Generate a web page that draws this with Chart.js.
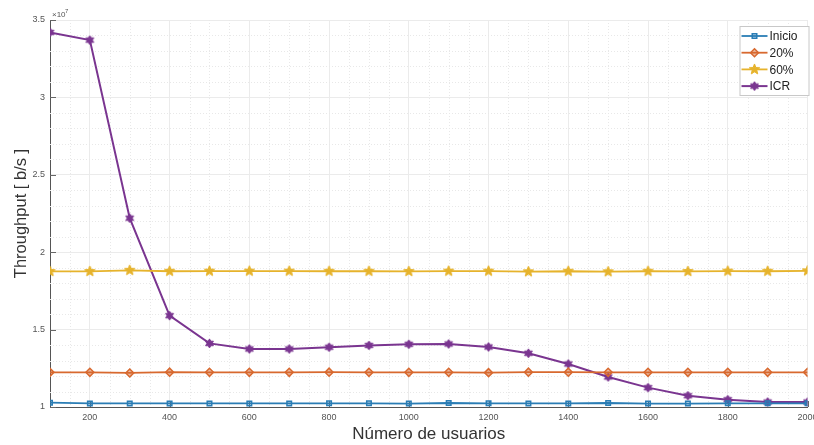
<!DOCTYPE html>
<html>
<head>
<meta charset="utf-8">
<script src="https://cdn.jsdelivr.net/npm/chart.js@4.4.0/dist/chart.umd.min.js"></script>
<style>
  html, body { margin: 0; padding: 0; background: #fff; }
  #wrap { width: 814px; height: 445px; }
</style>
</head>
<body>
<div id="wrap"><canvas id="c" width="814" height="445"></canvas></div>
<script>
// Number of users on the x axis
const users = [100, 200, 300, 400, 500, 600, 700, 800, 900, 1000,
               1100, 1200, 1300, 1400, 1500, 1600, 1700, 1800, 1900, 2000];

// Throughput per scenario [b/s]
const inicio = [1.028e7, 1.023e7, 1.023e7, 1.023e7, 1.023e7, 1.023e7, 1.023e7, 1.024e7, 1.024e7, 1.022e7,
                1.026e7, 1.024e7, 1.023e7, 1.023e7, 1.026e7, 1.022e7, 1.022e7, 1.024e7, 1.024e7, 1.024e7];
const p20    = [1.224e7, 1.224e7, 1.220e7, 1.225e7, 1.224e7, 1.224e7, 1.224e7, 1.225e7, 1.224e7, 1.224e7,
                1.224e7, 1.222e7, 1.225e7, 1.225e7, 1.224e7, 1.224e7, 1.224e7, 1.224e7, 1.224e7, 1.224e7];
const p60    = [1.876e7, 1.876e7, 1.883e7, 1.877e7, 1.878e7, 1.878e7, 1.878e7, 1.877e7, 1.877e7, 1.876e7,
                1.878e7, 1.878e7, 1.874e7, 1.877e7, 1.874e7, 1.877e7, 1.876e7, 1.878e7, 1.877e7, 1.880e7];
const icr    = [3.42e7, 3.37e7, 2.22e7, 1.59e7, 1.411e7, 1.375e7, 1.375e7, 1.386e7, 1.398e7, 1.405e7,
                1.407e7, 1.388e7, 1.347e7, 1.278e7, 1.194e7, 1.125e7, 1.073e7, 1.047e7, 1.032e7, 1.032e7];

// Axis ticks
const xTicks = [200, 400, 600, 800, 1000, 1200, 1400, 1600, 1800, 2000];
const yTicks = [1e7, 1.5e7, 2e7, 2.5e7, 3e7, 3.5e7];

const seriesNames = ['Inicio', '20%', '60%', 'ICR'];
const seriesColors = ['#2a7db5', '#d8692f', '#e6b32c', '#7a3590'];

// Filled star markers drawn into small canvases
function starMarker(points, color, outerR, innerR) {
  const size = Math.ceil(outerR * 2 + 2);
  const cv = document.createElement('canvas');
  cv.width = size; cv.height = size;
  const g = cv.getContext('2d');
  const c = size / 2;
  g.beginPath();
  for (let i = 0; i < points * 2; i++) {
    const r = i % 2 === 0 ? outerR : innerR;
    const a = -Math.PI / 2 + i * Math.PI / points;
    const px = c + r * Math.cos(a), py = c + r * Math.sin(a);
    if (i === 0) g.moveTo(px, py); else g.lineTo(px, py);
  }
  g.closePath();
  g.fillStyle = color;
  g.fill();
  g.lineWidth = 1;
  g.strokeStyle = color;
  g.stroke();
  return cv;
}

const pentagram = starMarker(5, seriesColors[2], 5.5, 2.4);
const hexagram = starMarker(6, seriesColors[3], 4.5, 2.6);

const seriesData = [inicio, p20, p60, icr];
const pointStyles = ['rect', 'rectRot', pentagram, hexagram];
const pointRadii = [3.2, 4, 5, 5];
const pointFills = ['rgba(42,125,181,0.25)', 'rgba(216,105,47,0.45)', seriesColors[2], seriesColors[3]];

const datasets = seriesNames.map((name, s) => ({
  label: name,
  data: users.map((u, i) => ({ x: u, y: seriesData[s][i] })),
  borderColor: seriesColors[s],
  borderWidth: s === 3 ? 2 : 1.8,
  pointStyle: pointStyles[s],
  pointRadius: pointRadii[s],
  pointBorderWidth: 1.5,
  pointBorderColor: seriesColors[s],
  pointBackgroundColor: pointFills[s],
  tension: 0,
  fill: false
}));

// Minor grid, inward tick marks, exponent label and boxed legend
const matlabDecor = {
  id: 'matlabDecor',
  beforeDatasetsDraw(chart) {
    const { ctx, chartArea: a, scales: { x, y } } = chart;
    ctx.save();
    ctx.strokeStyle = '#e8e8e8';
    ctx.lineWidth = 1;
    ctx.setLineDash([1, 2]);
    for (let v = 150; v < 2000; v += 50) {
      if (v % 200 === 0) continue;
      const px = Math.round(x.getPixelForValue(v)) + 0.5;
      ctx.beginPath(); ctx.moveTo(px, a.top); ctx.lineTo(px, a.bottom); ctx.stroke();
    }
    for (let k = 11; k < 35; k++) {
      if (k % 5 === 0) continue;
      const py = Math.round(y.getPixelForValue(k * 1e6)) + 0.5;
      ctx.beginPath(); ctx.moveTo(a.left, py); ctx.lineTo(a.right, py); ctx.stroke();
    }
    ctx.setLineDash([]);
    // inward ticks
    ctx.strokeStyle = '#666';
    yTicks.forEach(v => {
      const py = Math.round(y.getPixelForValue(v)) + 0.5;
      ctx.beginPath(); ctx.moveTo(a.left, py); ctx.lineTo(a.left + 6, py); ctx.stroke();
    });
    xTicks.forEach(v => {
      const px = Math.round(x.getPixelForValue(v)) + 0.5;
      ctx.beginPath(); ctx.moveTo(px, a.bottom); ctx.lineTo(px, a.bottom - 6); ctx.stroke();
    });
    ctx.restore();
  },
  afterDraw(chart) {
    const { ctx, chartArea: a } = chart;
    ctx.save();
    // exponent
    ctx.fillStyle = '#555';
    ctx.font = '8px "Liberation Sans", Arial, sans-serif';
    ctx.textBaseline = 'alphabetic';
    ctx.textAlign = 'left';
    ctx.fillText('\u00d710', a.left + 2, a.top - 3);
    ctx.font = '6px "Liberation Sans", Arial, sans-serif';
    ctx.fillText('7', a.left + 15, a.top - 7);

    // legend box
    const bx = a.right - 68, by = a.top + 6, bw = 70, bh = 70;
    ctx.fillStyle = '#fff';
    ctx.fillRect(bx, by, bw, bh);
    ctx.strokeStyle = '#c8c8c8';
    ctx.lineWidth = 1;
    ctx.strokeRect(bx + 0.5, by + 0.5, bw - 1, bh - 1);
    ctx.font = '12px "Liberation Sans", Arial, sans-serif';
    ctx.textBaseline = 'middle';
    chart.data.datasets.forEach((ds, i) => {
      const ly = by + 10 + i * 16.7;
      ctx.strokeStyle = ds.borderColor;
      ctx.lineWidth = ds.borderWidth;
      ctx.beginPath(); ctx.moveTo(bx + 2, ly); ctx.lineTo(bx + 28, ly); ctx.stroke();
      ctx.fillStyle = ds.pointBackgroundColor;
      ctx.strokeStyle = ds.pointBorderColor;
      ctx.lineWidth = ds.pointBorderWidth;
      Chart.helpers.drawPoint(ctx, {
        pointStyle: ds.pointStyle,
        radius: ds.pointRadius,
        borderWidth: ds.pointBorderWidth,
        rotation: 0
      }, bx + 15, ly);
      ctx.fillStyle = '#222';
      ctx.fillText(ds.label, bx + 30, ly + 1);
    });
    ctx.restore();
  }
};

const fontFamily = '"Liberation Sans", Arial, sans-serif';

new Chart(document.getElementById('c'), {
  type: 'line',
  data: { datasets },
  plugins: [matlabDecor],
  options: {
    responsive: false,
    animation: false,
    devicePixelRatio: 1,
    layout: { padding: { left: 0, top: 20, right: 4, bottom: 0 } },
    plugins: { legend: { display: false }, tooltip: { enabled: false } },
    scales: {
      x: {
        type: 'linear',
        min: 100,
        max: 2000,
        afterBuildTicks(scale) { scale.ticks = xTicks.map(v => ({ value: v })); },
        afterFit(scale) { scale.height = 38; scale.paddingLeft = 0; scale.paddingRight = 0; },
        ticks: {
          color: '#555',
          font: { family: fontFamily, size: 9 },
          padding: 5,
          maxRotation: 0,
          autoSkip: false,
          callback: v => String(v)
        },
        grid: { color: '#ebebeb', lineWidth: 1, drawTicks: false },
        border: { display: true, color: '#555', width: 1 },
        title: {
          display: true,
          text: 'Número de usuarios',
          color: '#333',
          font: { family: fontFamily, size: 17 },
          padding: { top: 0, bottom: 0 }
        }
      },
      y: {
        type: 'linear',
        min: 1e7,
        max: 3.5e7,
        afterBuildTicks(scale) { scale.ticks = yTicks.map(v => ({ value: v })); },
        afterFit(scale) { scale.width = 50; scale.paddingTop = 0; scale.paddingBottom = 0; },
        ticks: {
          color: '#555',
          font: { family: fontFamily, size: 9 },
          padding: 5,
          callback: v => String(v / 1e7)
        },
        grid: { color: '#ebebeb', lineWidth: 1, drawTicks: false },
        border: { display: true, color: '#555', width: 1 },
        title: {
          display: true,
          text: 'Throughput [ b/s ]',
          color: '#333',
          font: { family: fontFamily, size: 16.5 },
          padding: { top: 12, bottom: 0 }
        }
      }
    }
  }
});
</script>
</body>
</html>
